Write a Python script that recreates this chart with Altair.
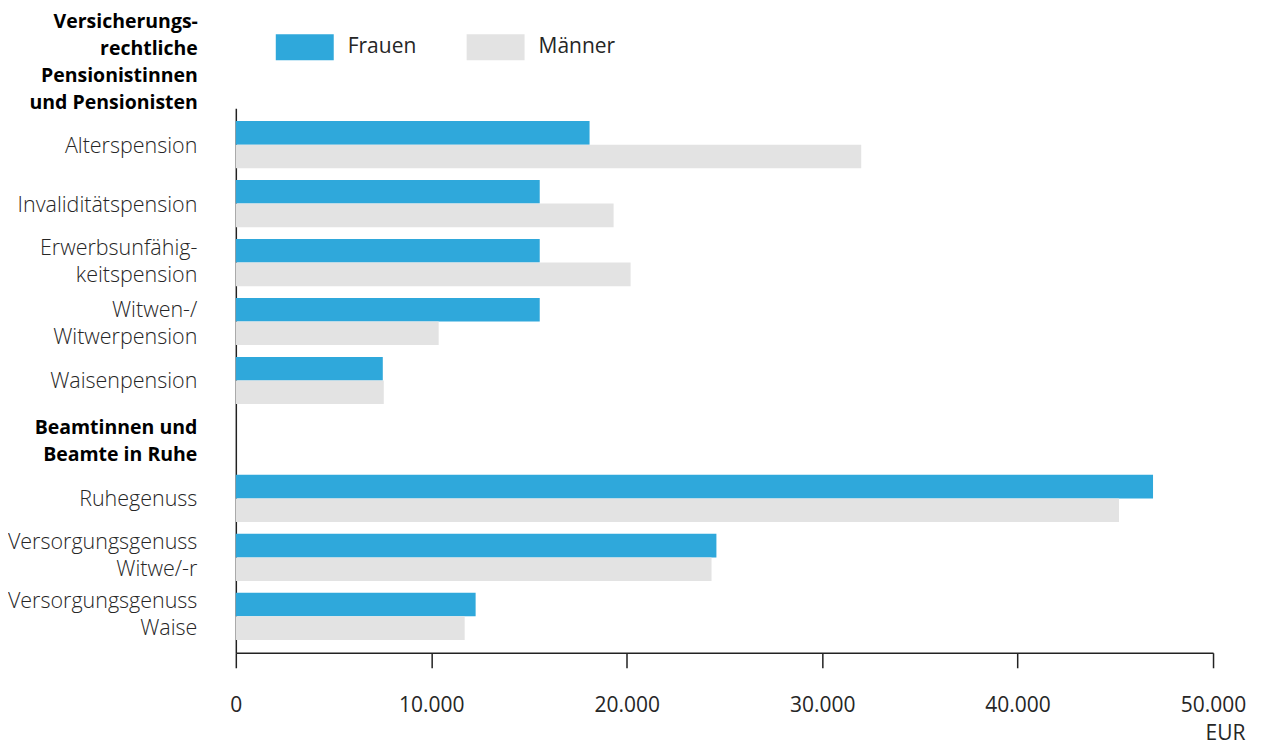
import altair as alt
import pandas as pd

# ---- data ----
categories = [
    "Alterspension",
    "Invaliditätspension",
    "Erwerbsunfähig-|keitspension",
    "Witwen-/|Witwerpension",
    "Waisenpension",
    "Beamtinnen und|Beamte in Ruhe",
    "Ruhegenuss",
    "Versorgungsgenuss|Witwe/-r\u2002",
    "Versorgungsgenuss|Waise\u2002",
]
bar_categories = [c for c in categories if c != "Beamtinnen und|Beamte in Ruhe"]
frauen = [18100, 15550, 15550, 15550, 7520, 46930, 24590, 12270]
maenner = [32000, 19330, 20200, 10380, 7570, 45190, 24340, 11710]
series = ["Frauen", "Männer"]
colors = ["#2FA8DB", "#E3E3E3"]
header_lines = ["Versicherungs-", "rechtliche", "Pensionistinnen", "und Pensionisten"]
x_ticks = [0, 10000, 20000, 30000, 40000, 50000]

rows = []
for c, f, m in zip(bar_categories, frauen, maenner):
    rows.append({"Kategorie": c, "Geschlecht": "Frauen", "Wert": f})
    rows.append({"Kategorie": c, "Geschlecht": "Männer", "Wert": m})
df = pd.DataFrame(rows)
hdr = pd.DataFrame({"t": [header_lines]})

FONT = "Open Sans"
TXT = "#262626"
HEAD2 = "datum.value == 'Beamtinnen und|Beamte in Ruhe'"

label_offset_expr = (
    "indexof(datum.value, '|') < 0 ? 2 : "
    "(datum.value == 'Witwen-/|Witwerpension' || datum.value == 'Beamtinnen und|Beamte in Ruhe') ? -11 : -14"
)

bars = alt.Chart(df).mark_bar().encode(
    x=alt.X(
        "Wert:Q",
        scale=alt.Scale(domain=[0, 50000], nice=False),
        axis=alt.Axis(
            values=x_ticks,
            grid=False,
            title="EUR",
            titleFont=FONT,
            titleFontSize=21,
            titleFontWeight="normal",
            titleColor=TXT,
            titleAlign="right",
            titleAnchor="end",
            titleX=1010,
            titleY=87,
            titleBaseline="alphabetic",
            labelFont=FONT,
            labelFontSize=21,
            labelColor=TXT,
            labelPadding=27,
            tickSize=15,
            tickColor="#222222",
            tickWidth=1.5,
            domainColor="#222222",
            domainWidth=1.5,
            labelExpr="replace(format(datum.value, ',d'), ',', '.')",
            labelFlush=False,
            labelOverlap=False,
        ),
    ),
    y=alt.Y(
        "Kategorie:N",
        sort=categories,
        scale=alt.Scale(domain=categories, paddingInner=0.2, paddingOuter=0.218),
        axis=alt.Axis(
            title=None,
            ticks=False,
            domainColor="#222222",
            domainWidth=1.5,
            labelFont=FONT,
            labelFontSize=alt.condition(HEAD2, alt.value(19.5), alt.value(21.5)),
            labelLineHeight=27,
            labelColor=alt.condition(HEAD2, alt.value("#000000"), alt.value(TXT)),
            labelFontWeight=alt.condition(HEAD2, alt.value("bold"), alt.value(300)),
            labelOffset=alt.ExprRef(label_offset_expr),
            labelPadding=39,
            labelExpr="split(datum.label, '|')",
            labelLimit=400,
        ),
    ),
    yOffset=alt.YOffset(
        "Geschlecht:N",
        sort=series,
        scale=alt.Scale(paddingInner=0, paddingOuter=0),
    ),
    color=alt.Color(
        "Geschlecht:N",
        sort=series,
        scale=alt.Scale(domain=series, range=colors),
        legend=alt.Legend(
            title=None,
            orient="none",
            legendX=40,
            legendY=-90,
            direction="horizontal",
            symbolType="M-1,-0.448H1V0.448H-1Z",
            symbolSize=3364,
            symbolStrokeWidth=0,
            labelFont=FONT,
            labelFontSize=21,
            labelColor=TXT,
            labelOffset=14,
            columnPadding=50,
        ),
    ),
)

header = alt.Chart(hdr).mark_text(
    align="right",
    baseline="middle",
    font=FONT,
    fontSize=19.5,
    fontWeight="bold",
    color="#000000",
    lineHeight=27,
).encode(
    text="t",
    x=alt.value(-38),
    y=alt.value(-86),
)

chart = alt.layer(bars, header).properties(
    width=978,
    height=545,
    padding={"left": 228, "top": 100, "right": 40, "bottom": 92},
    autosize=alt.AutoSizeParams(type="none"),
).configure(background="white").configure_view(stroke=None)

chart.save("out.html", embed_options={"renderer": "svg", "actions": False})
